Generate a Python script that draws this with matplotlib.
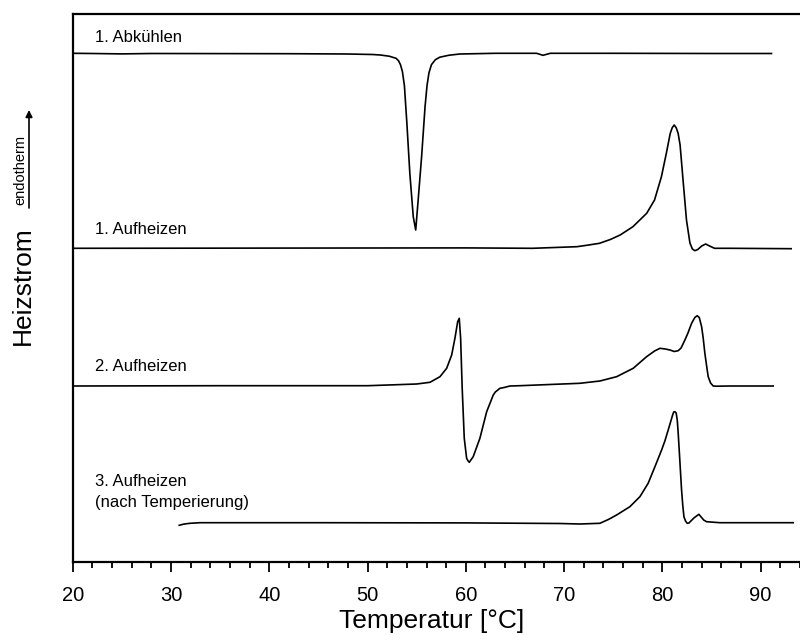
import matplotlib
matplotlib.use("Agg")
import matplotlib.pyplot as plt
from matplotlib.ticker import MultipleLocator

plt.rcParams['font.family'] = ['Liberation Sans', 'DejaVu Sans']

# 1. Abkühlen
T1 = [20.0, 22.0, 25.0, 28.0, 35.0, 42.0, 48.0, 50.5, 51.3, 52.2, 52.9, 53.15, 53.35,
      53.55, 53.75, 54.0, 54.3, 54.65, 54.9, 55.15, 55.5, 55.85, 56.05, 56.25, 56.5, 56.9,
      57.35, 58.3, 59.4, 63.0, 67.2, 67.85, 68.6, 75.0, 85.0, 91.1]
S1 = [50.84, 50.82, 50.78, 50.82, 50.81, 50.80, 50.77, 50.72, 50.67, 50.55, 50.34, 50.1,
      49.7, 49.0, 47.6, 43.87, 38.87, 34.5, 33.17, 36.17, 40.5, 45.5, 47.6, 48.9, 49.7,
      50.2, 50.45, 50.65, 50.77, 50.84, 50.84, 50.64, 50.84, 50.84, 50.82, 50.82]

# 1. Aufheizen
T2 = [20.0, 40.0, 60.0, 66.8, 71.3, 72.5, 73.6, 74.7, 75.7, 77.0, 78.4, 79.2, 79.9,
      80.4, 80.8, 81.0, 81.2, 81.4, 81.6, 81.8, 82.1, 82.45, 82.8, 83.05, 83.3, 83.6,
      84.0, 84.4, 84.8, 85.3, 86.9, 93.1]
S2 = [31.34, 31.36, 31.38, 31.34, 31.5, 31.67, 31.84, 32.22, 32.67, 33.5, 34.84, 36.17,
      38.5, 40.84, 42.84, 43.4, 43.67, 43.4, 42.84, 41.67, 38.17, 34.17, 31.87, 31.27,
      31.1, 31.22, 31.57, 31.77, 31.57, 31.34, 31.34, 31.30]

# 2. Aufheizen
T3 = [20.0, 35.0, 50.0, 53.0, 55.0, 56.35, 57.37, 58.05, 58.56, 58.89, 59.17, 59.33,
      59.47, 59.63, 59.84, 60.08, 60.2, 60.35, 60.75, 61.43, 62.12, 62.79, 63.0, 63.47,
      63.9, 64.49, 65.5, 71.6, 73.64, 75.34, 77.03, 78.39, 79.2, 79.75, 80.3, 80.77,
      81.2, 81.61, 81.9, 82.29, 82.6, 82.97, 83.3, 83.54, 83.75, 83.99, 84.15, 84.32,
      84.5, 84.66, 84.9, 85.17, 85.5, 86.87, 91.27]
S3 = [17.57, 17.6, 17.6, 17.7, 17.77, 17.94, 18.5, 19.34, 20.67, 22.34, 24.0, 24.34,
      22.34, 17.34, 12.34, 10.34, 10.12, 9.94, 10.5, 12.34, 15.0, 16.67, 16.97, 17.34,
      17.42, 17.57, 17.6, 17.84, 18.07, 18.5, 19.34, 20.5, 21.07, 21.34, 21.27, 21.17,
      21.02, 21.1, 21.37, 22.17, 22.87, 23.84, 24.42, 24.6, 24.42, 23.5, 22.37, 20.84,
      19.57, 18.5, 17.87, 17.57, 17.55, 17.57, 17.57]

# 3. Aufheizen (nach Temperierung)
T4 = [30.84, 31.3, 31.93, 32.95, 45.0, 60.0, 69.57, 71.6, 73.64, 74.5, 75.34, 76.69,
      77.71, 78.55, 79.24, 79.92, 80.25, 80.59, 81.04, 81.15, 81.27, 81.4, 81.51, 81.6,
      81.71, 81.83, 81.95, 82.07, 82.19, 82.35, 82.52, 82.7, 83.2, 83.71, 84.2, 84.49,
      85.85, 93.31]
S4 = [3.64, 3.76, 3.84, 3.9, 3.9, 3.88, 3.82, 3.77, 3.84, 4.22, 4.67, 5.5, 6.5, 7.84,
      9.5, 11.17, 12.07, 13.17, 14.67, 14.97, 15.0, 14.87, 14.17, 12.97, 11.17, 9.17,
      7.17, 5.67, 4.5, 4.07, 3.84, 3.87, 4.37, 4.74, 4.17, 4.0, 3.9, 3.9]

curve_labels = ["1. Abkühlen", "1. Aufheizen", "2. Aufheizen",
                "3. Aufheizen", "(nach Temperierung)"]
label_y = [52.47, 33.17, 19.5, 8.0, 5.9]
xticks = [20, 30, 40, 50, 60, 70, 80, 90]

fig = plt.figure(figsize=(8.0, 6.35), dpi=100)
ax = fig.add_axes([72.7 / 800, 73.3 / 635, 1 - 72.7 / 800, 547.4 / 635])

for T, S in [(T1, S1), (T2, S2), (T3, S3), (T4, S4)]:
    ax.plot(T, S, color='black', lw=1.2, solid_joinstyle='round')

for lab, yv in zip(curve_labels, label_y):
    ax.text(22.27, yv, lab, fontsize=12, va='center', ha='left')

ax.set_xlim(20, 94.0)
ax.set_ylim(0, 54.74)
ax.set_xticks(xticks)
ax.xaxis.set_minor_locator(MultipleLocator(2))
ax.set_yticks([])
ax.spines['right'].set_visible(False)
for s in ['left', 'bottom', 'top']:
    ax.spines[s].set_linewidth(1.6)
ax.tick_params(axis='x', which='major', direction='out', length=7.5, width=1.3,
               labelsize=14.5, pad=10)
ax.tick_params(axis='x', which='minor', direction='out', length=4, width=1.3)

fig.text(431.7 / 800, 1 - 621 / 635, "Temperatur [°C]", fontsize=19, ha='center', va='center')
fig.text(22.5 / 800, 1 - 286 / 635, "Heizstrom", fontsize=19, rotation=90,
         ha='center', va='center')
fig.text(20 / 800, 1 - 170 / 635, "endotherm", fontsize=10.5, rotation=90,
         ha='center', va='center')
fig.add_artist(matplotlib.patches.FancyArrowPatch(
    (29 / 800, 1 - 208 / 635), (29 / 800, 1 - 110 / 635),
    transform=fig.transFigure, arrowstyle='-|>', mutation_scale=10,
    color='black', lw=1.2, shrinkA=0, shrinkB=0))

fig.savefig("out.png", dpi=100)
